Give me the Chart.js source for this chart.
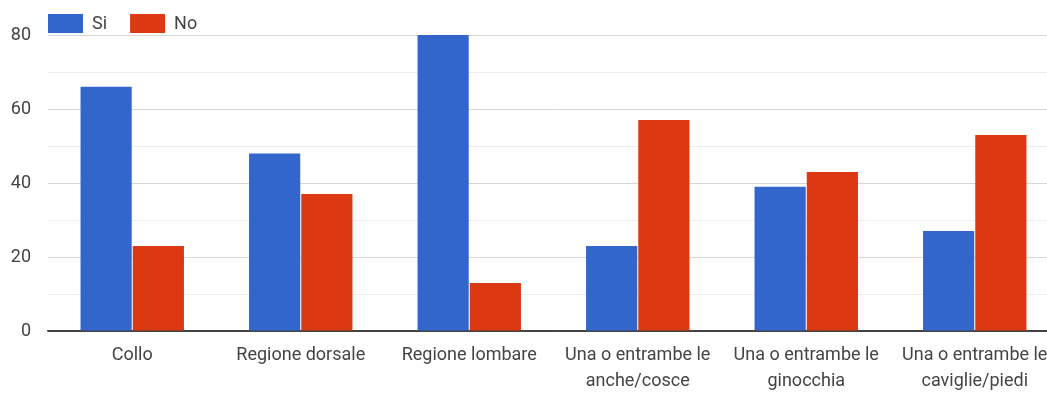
<!DOCTYPE html>
<html>
<head>
<meta charset="utf-8">
<script src="https://cdn.jsdelivr.net/npm/chart.js@4"></script>
<style>
  html, body { margin: 0; padding: 0; background: #fff; overflow: hidden; }
  #wrap { width: 1062px; height: 394px; }
</style>
</head>
<body>
<div id="wrap"><canvas id="c" width="1062" height="394"></canvas></div>
<script>
// Body regions (two-line labels are split into arrays)
const categories = [
  "Collo",
  "Regione dorsale",
  "Regione lombare",
  ["Una o entrambe le", "anche/cosce"],
  ["Una o entrambe le", "ginocchia"],
  ["Una o entrambe le", "caviglie/piedi"]
];
const seriesNames = ["Si", "No"];
const siValues = [66, 48, 80, 23, 39, 27];
const noValues = [23, 37, 13, 57, 43, 53];
const yTickLabels = [0, 20, 40, 60, 80];

const BLUE = "#3366cc";
const RED = "#dc3912";
const TEXT = "#444444";
const FONT = "Roboto, 'Liberation Sans', Arial, sans-serif";

// Legend drawn left-aligned with the plot area, above it
const topLegend = {
  id: "topLegend",
  afterDraw(chart) {
    const ctx = chart.ctx;
    let x = chart.chartArea.left;
    const y = 14, boxW = 35, boxH = 19;
    ctx.save();
    ctx.font = "18px " + FONT;
    ctx.textBaseline = "middle";
    chart.data.datasets.forEach(ds => {
      ctx.fillStyle = ds.backgroundColor;
      ctx.fillRect(x, y, boxW, boxH);
      ctx.fillStyle = TEXT;
      ctx.fillText(ds.label, x + boxW + 9, y + boxH / 2 + 1);
      x += boxW + 9 + ctx.measureText(ds.label).width + 23;
    });
    ctx.restore();
  }
};

new Chart(document.getElementById("c"), {
  type: "bar",
  data: {
    labels: categories,
    datasets: [
      { label: seriesNames[0], data: siValues, backgroundColor: BLUE },
      { label: seriesNames[1], data: noValues, backgroundColor: RED }
    ]
  },
  options: {
    responsive: false,
    animation: false,
    layout: { padding: { top: 35, right: 3, left: 0, bottom: 0 } },
    datasets: { bar: { categoryPercentage: 0.62, barPercentage: 0.98 } },
    plugins: { legend: { display: false }, tooltip: { enabled: false } },
    scales: {
      x: {
        afterFit(s) { s.height = 63; },
        grid: { display: false, drawTicks: false },
        border: { display: true, color: "#444", width: 1.5 },
        ticks: {
          color: TEXT,
          font: { family: FONT, size: 18, lineHeight: 1.45 },
          padding: 11,
          maxRotation: 0,
          autoSkip: false
        }
      },
      y: {
        min: 0,
        max: 80,
        afterFit(s) { s.width = 48; },
        border: { display: false },
        grid: {
          drawTicks: false,
          color: ctx => ctx.tick && ctx.tick.value === 0 ? "#444" : (ctx.tick && ctx.tick.value % 20 === 0 ? "#d6d6d6" : "#ececec"),
          lineWidth: 1
        },
        ticks: {
          stepSize: 10,
          color: TEXT,
          font: { family: FONT, size: 18 },
          padding: 17,
          callback: v => yTickLabels.includes(v) ? String(v) : ""
        }
      }
    }
  },
  plugins: [topLegend]
});
</script>
</body>
</html>
